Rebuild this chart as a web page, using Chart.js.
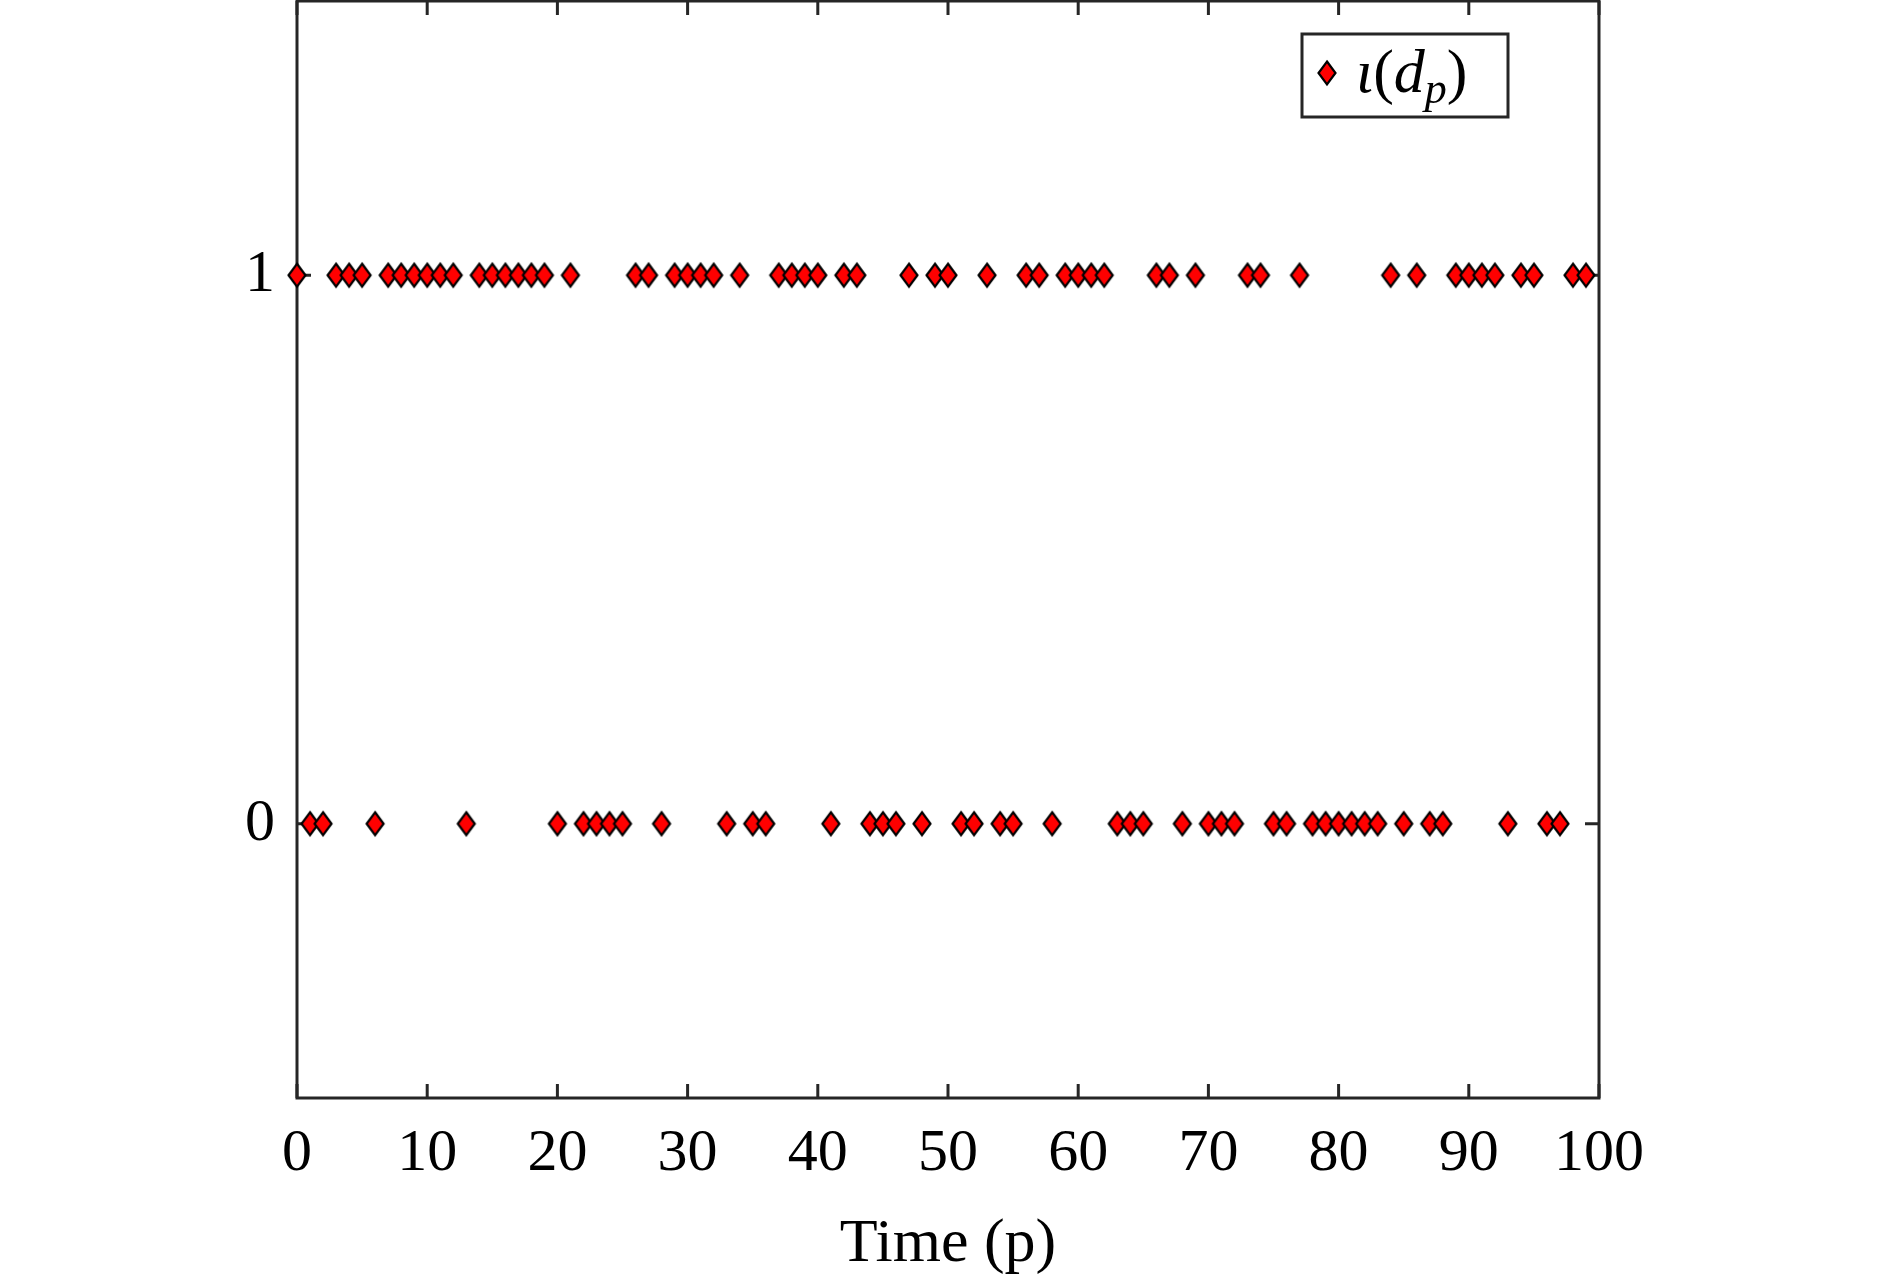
<!DOCTYPE html>
<html>
<head>
<meta charset="utf-8">
<script src="https://cdn.jsdelivr.net/npm/chart.js@4.4.0/dist/chart.umd.min.js"></script>
<style>
html, body { margin: 0; padding: 0; background: #ffffff; }
#wrap { width: 1890px; height: 1282px; position: relative; }
</style>
</head>
<body>
<div id="wrap"><canvas id="chart"></canvas></div>
<script>
// ---- data ----
const timeSteps = [0,1,2,3,4,5,6,7,8,9,10,11,12,13,14,15,16,17,18,19,
  20,21,22,23,24,25,26,27,28,29,30,31,32,33,34,35,36,37,38,39,
  40,41,42,43,44,45,46,47,48,49,50,51,52,53,54,55,56,57,58,59,
  60,61,62,63,64,65,66,67,68,69,70,71,72,73,74,75,76,77,78,79,
  80,81,82,83,84,85,86,87,88,89,90,91,92,93,94,95,96,97,98,99];
const states = [1,0,0,1,1,1,0,1,1,1,1,1,1,0,1,1,1,1,1,1,
  0,1,0,0,0,0,1,1,0,1,1,1,1,0,1,0,0,1,1,1,
  1,0,1,1,0,0,0,1,0,1,1,0,0,1,0,0,1,1,0,1,
  1,1,1,0,0,0,1,1,0,1,0,0,0,1,1,0,0,1,0,0,
  0,0,0,0,1,0,1,0,0,1,1,1,1,0,1,1,0,0,1,1];
const xTickValues = [0,10,20,30,40,50,60,70,80,90,100];
const yTickValues = [0,1];
const xAxisTitle = 'Time (p)';
const legendParts = { base: 'ι(d', sub: 'p', close: ')' };

// ---- styles ----
const AXIS_COLOR = '#262626';
const TEXT_COLOR = '#000000';
const FONT = '"Liberation Serif", "Times New Roman", serif';

function makeDiamond() {
  const c = document.createElement('canvas');
  c.width = 22; c.height = 28;
  const g = c.getContext('2d');
  g.beginPath();
  g.moveTo(11, 2.5); g.lineTo(19.5, 14); g.lineTo(11, 25.5); g.lineTo(2.5, 14); g.closePath();
  g.fillStyle = '#ff0000'; g.fill();
  g.lineWidth = 2.2; g.strokeStyle = '#000000'; g.lineJoin = 'miter'; g.stroke();
  return c;
}
const diamond = makeDiamond();

const points = timeSteps.map((t, i) => ({ x: t, y: states[i] }));

const framePlugin = {
  id: 'frame',
  beforeDatasetsDraw(chart) {
    const { ctx, chartArea: a, scales } = chart;
    ctx.save();
    ctx.strokeStyle = AXIS_COLOR;
    ctx.lineWidth = 3;
    ctx.beginPath();
    const tl = 14;
    scales.x.ticks.forEach(t => {
      const px = scales.x.getPixelForValue(t.value);
      ctx.moveTo(px, a.bottom); ctx.lineTo(px, a.bottom - tl);
      ctx.moveTo(px, a.top); ctx.lineTo(px, a.top + tl);
    });
    scales.y.ticks.forEach(t => {
      const py = scales.y.getPixelForValue(t.value);
      ctx.moveTo(a.left, py); ctx.lineTo(a.left + tl, py);
      ctx.moveTo(a.right, py); ctx.lineTo(a.right - tl, py);
    });
    ctx.stroke();
    ctx.strokeRect(a.left, a.top, a.right - a.left, a.bottom - a.top);
    ctx.restore();
  },
  afterDraw(chart) {
    const { ctx } = chart;
    ctx.save();
    // legend box
    const bx = 1302, by = 34, bw = 206, bh = 83;
    ctx.fillStyle = '#ffffff';
    ctx.fillRect(bx, by, bw, bh);
    ctx.strokeStyle = AXIS_COLOR;
    ctx.lineWidth = 3;
    ctx.strokeRect(bx, by, bw, bh);
    ctx.drawImage(diamond, 1327 - 11, 73 - 14);
    ctx.fillStyle = TEXT_COLOR;
    ctx.textBaseline = 'alphabetic';
    ctx.textAlign = 'left';
    let x = 1356;
    const base = 92;
    ctx.font = 'italic 62px ' + FONT;
    ctx.fillText('ι', x, base); x += ctx.measureText('ι').width;
    ctx.font = '62px ' + FONT;
    ctx.fillText('(', x, base); x += ctx.measureText('(').width;
    ctx.font = 'italic 62px ' + FONT;
    ctx.fillText('d', x, base); x += ctx.measureText('d').width;
    ctx.font = 'italic 44px ' + FONT;
    ctx.fillText(legendParts.sub, x, base + 11); x += ctx.measureText(legendParts.sub).width;
    ctx.font = '62px ' + FONT;
    ctx.fillText(legendParts.close, x, base);
    ctx.restore();
  }
};

new Chart(document.getElementById('chart'), {
  type: 'scatter',
  data: {
    datasets: [{
      label: legendParts.base + legendParts.sub + legendParts.close,
      data: points,
      pointStyle: diamond,
      pointRadius: 10,
      clip: false,
      showLine: false
    }]
  },
  options: {
    responsive: true,
    maintainAspectRatio: false,
    animation: false,
    layout: { autoPadding: false, padding: { left: 0, right: 291, top: 1, bottom: 0 } },
    plugins: { legend: { display: false }, tooltip: { enabled: false } },
    scales: {
      x: {
        type: 'linear', min: 0, max: 100,
        afterBuildTicks: s => { s.ticks = xTickValues.map(v => ({ value: v })); },
        afterFit: s => { s.height = 184; s.paddingLeft = 0; s.paddingRight = 0; },
        grid: { display: false, drawTicks: false },
        border: { display: false },
        ticks: { color: TEXT_COLOR, font: { family: FONT, size: 60 }, padding: 20, maxRotation: 0, autoSkip: false },
        title: { display: true, text: xAxisTitle, color: TEXT_COLOR, font: { family: FONT, size: 62 }, padding: { top: 0, bottom: 0 } }
      },
      y: {
        type: 'linear', min: -0.5, max: 1.5,
        afterBuildTicks: s => { s.ticks = yTickValues.map(v => ({ value: v })); },
        afterFit: s => { s.width = 297; s.paddingTop = 0; s.paddingBottom = 0; },
        grid: { display: false, drawTicks: false },
        border: { display: false },
        ticks: { color: TEXT_COLOR, font: { family: FONT, size: 60 }, padding: 22 }
      }
    }
  },
  plugins: [framePlugin]
});
</script>
</body>
</html>
